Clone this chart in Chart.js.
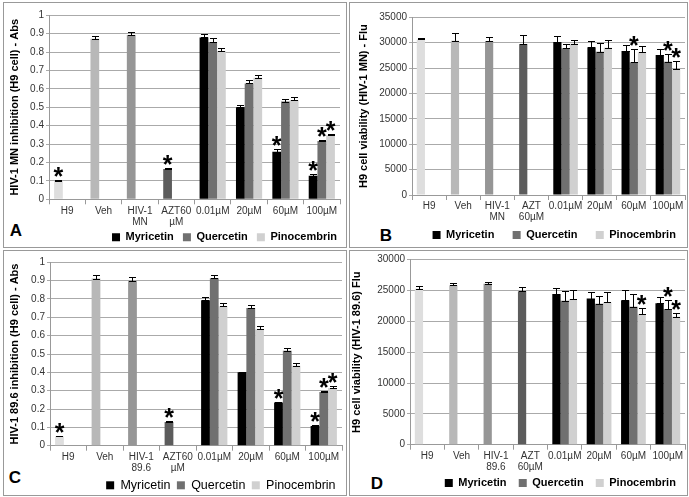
<!DOCTYPE html>
<html>
<head>
<meta charset="utf-8">
<script src="https://cdn.jsdelivr.net/npm/chart.js@4.4.1/dist/chart.umd.min.js"></script>
<style>
  body { margin: 0; background: #fff; width: 689px; height: 497px; position: relative; overflow: hidden; font-family: "Liberation Sans", Arial, sans-serif; }
  .box { position: absolute; border: 1px solid #999; box-sizing: border-box; }
  .wrap { position: absolute; }
  .letter { position: absolute; font-weight: bold; font-size: 17px; line-height: 1; transform: translate(-50%, -50%); }
</style>
</head>
<body>
<div class="box" style="left:3px;top:2px;width:344px;height:246px"></div>
<div class="box" style="left:349px;top:2px;width:339px;height:246px"></div>
<div class="box" style="left:3px;top:250px;width:344px;height:246px"></div>
<div class="box" style="left:349px;top:250px;width:339px;height:246px"></div>
<div class="letter" style="left:16px;top:230px">A</div>
<div class="letter" style="left:386px;top:235px">B</div>
<div class="letter" style="left:15px;top:477px">C</div>
<div class="letter" style="left:377px;top:483px">D</div>
<script>
// shared categories / series
const groups = ['0.01µM', '20µM', '60µM', '100µM'];
const seriesNames = ['Myricetin', 'Quercetin', 'Pinocembrin'];
const seriesColors = ['#000000', '#707070', '#d0d0d0'];
const controlColors = ['#dedede', '#b8b8b8', '#969696', '#5c5c5c'];

// A - HIV-1 MN inhibition
const labelsA = ['H9', 'Veh', ['HIV-1', 'MN'], ['AZT60', 'µM']];
const controlsA = [0.100, 0.872, 0.893, 0.165];
const controlsErrA = [0.004, 0.016, 0.016, 0.006];
const myricetinA = [0.880, 0.500, 0.259, 0.128];
const myricetinErrA = [0.016, 0.010, 0.012, 0.012];
const quercetinA = [0.855, 0.630, 0.531, 0.317];
const quercetinErrA = [0.020, 0.018, 0.016, 0.008];
const pinocembrinA = [0.806, 0.660, 0.540, 0.348];
const pinocembrinErrA = [0.018, 0.018, 0.014, 0.008];
const starsA = [[0, 0], [0, 3], [0, 6], [0, 7], [1, 7], [2, 7]];

// B - viability HIV-1 MN
const labelsB = ['H9', 'Veh', ['HIV-1', 'MN'], ['AZT', '60µM']];
const controlsB = [30650, 30400, 30340, 29750];
const controlsErrB = [200, 1450, 730, 1700];
const myricetinB = [30140, 29090, 28370, 27580];
const myricetinErrB = [1250, 1300, 1180, 1100];
const quercetinB = [28900, 28230, 26140, 26260];
const quercetinErrB = [790, 1650, 2560, 1450];
const pinocembrinB = [29800, 29020, 28110, 24760];
const pinocembrinErrB = [750, 1500, 1300, 1640];
const starsB = [[1, 6], [1, 7], [2, 7]];

// C - HIV-1 89.6 inhibition
const labelsC = ['H9', 'Veh', ['HIV-1', '89.6'], ['AZT60', 'µM']];
const controlsC = [0.051, 0.911, 0.900, 0.129];
const controlsErrC = [0.004, 0.018, 0.018, 0.008];
const myricetinC = [0.793, 0.400, 0.235, 0.108];
const myricetinErrC = [0.020, 0.004, 0.004, 0.004];
const quercetinC = [0.913, 0.751, 0.518, 0.293];
const quercetinErrC = [0.020, 0.018, 0.015, 0.007];
const pinocembrinC = [0.760, 0.635, 0.436, 0.315];
const pinocembrinErrC = [0.018, 0.015, 0.015, 0.008];
const starsC = [[0, 0], [0, 3], [0, 6], [0, 7], [1, 7], [2, 7]];

// D - viability HIV-1 89.6
const labelsD = ['H9', 'Veh', ['HIV-1', '89.6'], ['AZT', '60µM']];
const controlsD = [25300, 25850, 26100, 24880];
const controlsErrD = [400, 450, 350, 700];
const myricetinD = [24440, 23690, 23420, 22930];
const myricetinErrD = [920, 1130, 1670, 1070];
const quercetinD = [23360, 22870, 22380, 22010];
const quercetinErrD = [1570, 1300, 2010, 1460];
const pinocembrinD = [23580, 23100, 21150, 20760];
const pinocembrinErrD = [1500, 1720, 1070, 650];
const starsD = [[2, 6], [1, 7], [2, 7]];

Chart.defaults.font.family = '"Liberation Sans", Arial, sans-serif';
Chart.defaults.color = '#333';

// error bars (plus side) and significance stars
const errorBars = {
  id: 'errorBars',
  afterDatasetsDraw(chart, args, opts) {
    const ctx = chart.ctx;
    const y = chart.scales.y;
    ctx.save();
    ctx.strokeStyle = '#000';
    ctx.lineWidth = 1;
    chart.data.datasets.forEach((ds, di) => {
      chart.getDatasetMeta(di).data.forEach((bar, i) => {
        const v = ds.data[i];
        if (v == null) return;
        const x = Math.round(bar.x) + 0.5;
        const y0 = Math.round(y.getPixelForValue(v)) + 0.5;
        const y1 = Math.round(y.getPixelForValue(v + ds.errors[i])) + 0.5;
        ctx.beginPath();
        ctx.moveTo(x, y0); ctx.lineTo(x, y1);
        ctx.moveTo(x - 3.5, y1); ctx.lineTo(x + 3.5, y1);
        ctx.moveTo(x - 3.5, y0); ctx.lineTo(x + 3.5, y0);
        ctx.stroke();
      });
    });
    ctx.fillStyle = '#000';
    ctx.font = 'bold 25px "Liberation Sans", Arial, sans-serif';
    ctx.textAlign = 'center';
    ctx.textBaseline = 'alphabetic';
    (opts.list || []).forEach(([di, i]) => {
      const ds = chart.data.datasets[di];
      const bar = chart.getDatasetMeta(di).data[i];
      const top = y.getPixelForValue(ds.data[i] + ds.errors[i]);
      ctx.fillText('*', bar.x, top + 5);
    });
    ctx.restore();
  }
};

function panel(cfg) {
  const [cl, ct, cw, ch] = cfg.canvas;
  const [pl, pr, pt, pb] = cfg.plot;
  const wrap = document.createElement('div');
  wrap.className = 'wrap';
  Object.assign(wrap.style, { left: cl + 'px', top: ct + 'px', width: cw + 'px', height: ch + 'px' });
  const canvas = document.createElement('canvas');
  wrap.appendChild(canvas);
  document.body.appendChild(wrap);

  const lf = cfg.legendFont.size;
  const lp = 3;
  const legendTop = cfg.legendY - lp - lf / 2;
  const legendH = ct + ch - legendTop;
  const xH = legendTop - pb;
  const yW = pl - cl;
  const blank = cfg.controls.map(() => null);

  new Chart(canvas, {
    type: 'bar',
    data: {
      labels: cfg.labels.concat(groups),
      datasets: [
        {
          label: seriesNames[0],
          data: cfg.controls.concat(cfg.myr),
          errors: cfg.controlsErr.concat(cfg.myrErr),
          backgroundColor: controlColors.concat(groups.map(() => seriesColors[0]))
        },
        { label: seriesNames[1], data: blank.concat(cfg.que), errors: blank.concat(cfg.queErr), backgroundColor: seriesColors[1] },
        { label: seriesNames[2], data: blank.concat(cfg.pin), errors: blank.concat(cfg.pinErr), backgroundColor: seriesColors[2] }
      ]
    },
    options: {
      responsive: true,
      maintainAspectRatio: false,
      animation: false,
      devicePixelRatio: 1,
      layout: { padding: { left: 0, right: cl + cw - pr, top: pt - ct, bottom: 0 } },
      datasets: { bar: { categoryPercentage: 0.72, barPercentage: 1 } },
      scales: {
        x: {
          grid: { display: true, drawOnChartArea: false, offset: true, color: '#999', tickLength: 5 },
          border: { color: '#999' },
          ticks: { font: { size: 10, lineHeight: 1.1 }, padding: 1, maxRotation: 0, autoSkip: false, color: '#333' },
          afterFit: s => { s.height = xH; }
        },
        y: {
          min: 0,
          max: cfg.yMax,
          ticks: { stepSize: cfg.yStep, font: { size: 10 }, padding: 2, color: '#333', callback: v => String(+v.toFixed(2)) },
          grid: { color: '#aaa', tickLength: 3 },
          border: { color: '#999' },
          title: { display: true, text: cfg.yTitle, color: '#000', font: { size: 11, weight: 'bold' }, padding: { top: cfg.titlePad, bottom: 0 } },
          afterFit: s => { s.width = yW; }
        }
      },
      plugins: {
        legend: {
          position: 'bottom',
          align: 'end',
          maxHeight: legendH,
          labels: {
            boxWidth: 8,
            boxHeight: 8,
            padding: lp,
            color: '#000',
            font: cfg.legendFont,
            generateLabels: () => seriesNames.map((n, i) => ({
              text: n + ' '.repeat(i < 2 ? cfg.gapSpaces : cfg.endSpaces),
              fillStyle: seriesColors[i], strokeStyle: seriesColors[i], lineWidth: 0, hidden: false, datasetIndex: i
            }))
          }
        },
        tooltip: { enabled: false },
        errorBars: { list: cfg.stars }
      }
    },
    plugins: [errorBars]
  });
}

panel({
  canvas: [4, 3, 342, 244], plot: [49, 340, 15.3, 199.3],
  labels: labelsA, controls: controlsA, controlsErr: controlsErrA,
  myr: myricetinA, myrErr: myricetinErrA, que: quercetinA, queErr: quercetinErrA, pin: pinocembrinA, pinErr: pinocembrinErrA,
  stars: starsA, yMax: 1, yStep: 0.1, yTitle: 'HIV-1 MN inhibition (H9 cell) - Abs', titlePad: 4.4,
  legendFont: { size: 11, weight: 'bold' }, legendY: 237.3, gapSpaces: 2, endSpaces: 0
});
panel({
  canvas: [350, 3, 337, 244], plot: [412, 685, 17.3, 195],
  labels: labelsB, controls: controlsB, controlsErr: controlsErrB,
  myr: myricetinB, myrErr: myricetinErrB, que: quercetinB, queErr: quercetinErrB, pin: pinocembrinB, pinErr: pinocembrinErrB,
  stars: starsB, yMax: 35000, yStep: 5000, yTitle: 'H9 cell viability (HIV-1 MN) - Flu', titlePad: 7.4,
  legendFont: { size: 11, weight: 'bold' }, legendY: 235, gapSpaces: 5, endSpaces: 2
});
panel({
  canvas: [4, 251, 342, 244], plot: [50, 342, 262.3, 445.7],
  labels: labelsC, controls: controlsC, controlsErr: controlsErrC,
  myr: myricetinC, myrErr: myricetinErrC, que: quercetinC, queErr: quercetinErrC, pin: pinocembrinC, pinErr: pinocembrinErrC,
  stars: starsC, yMax: 1, yStep: 0.1, yTitle: 'HIV-1 89.6 inhibition (H9 cell) - Abs', titlePad: 4.4,
  legendFont: { size: 12.5 }, legendY: 485.3, gapSpaces: 1, endSpaces: 1
});
panel({
  canvas: [350, 251, 337, 244], plot: [410, 685, 259.7, 444.7],
  labels: labelsD, controls: controlsD, controlsErr: controlsErrD,
  myr: myricetinD, myrErr: myricetinErrD, que: quercetinD, queErr: quercetinErrD, pin: pinocembrinD, pinErr: pinocembrinErrD,
  stars: starsD, yMax: 30000, yStep: 5000, yTitle: 'H9 cell viability (HIV-1 89.6) Flu', titlePad: 0.7,
  legendFont: { size: 11, weight: 'bold' }, legendY: 483, gapSpaces: 3, endSpaces: 2
});
</script>
</body>
</html>
